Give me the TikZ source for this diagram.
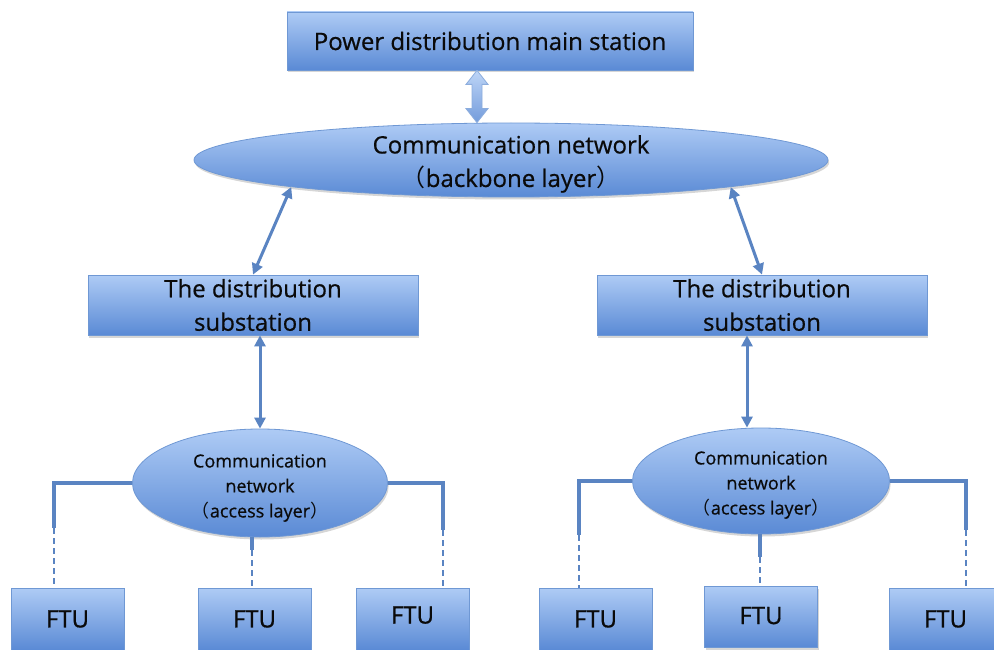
\documentclass[tikz,border=0pt]{standalone}
\usepackage{fontspec}
\setmainfont{Open Sans}[FakeBold=0.6]
\newfontfamily\cjk{Noto Sans CJK SC}
\usetikzlibrary{shapes.geometric,arrows.meta,shadows,calc}
\definecolor{topc}{HTML}{AECBF5}
\definecolor{botc}{HTML}{5A8AD5}
\definecolor{edgec}{HTML}{6F98D4}
\definecolor{linkc}{HTML}{5A84C2}
\definecolor{txtc}{HTML}{0A0A0A}
\tikzset{
  blockshade/.style={draw=edgec, line width=0.8pt, top color=topc, bottom color=botc, text=txtc,
    drop shadow={shadow xshift=1.2pt, shadow yshift=-2.5pt, fill=black!35, opacity=0.45}},
  boxnode/.style={blockshade, rectangle, inner sep=0pt, align=center},
  ellnode/.style={blockshade, ellipse, inner sep=0pt},
  labeltext/.style={text=txtc, align=center, inner sep=0pt},
  bigtext/.style={font=\fontsize{24}{33.5}\selectfont},
  smalltext/.style={font=\fontsize{18}{25}\selectfont},
  ftutext/.style={font=\fontsize{24}{26}\selectfont},
  ftubox/.style={boxnode, ftutext, minimum width=113pt, minimum height=62pt},
  twoway/.style={draw=linkc, line width=3pt, {Triangle[length=11pt,width=11pt]}-{Triangle[length=11pt,width=11pt]}},
  solidlink/.style={draw=linkc, line width=3.4pt},
  dashlink/.style={draw=linkc, line width=1.4pt, dash pattern=on 6pt off 4pt}
}
\begin{document}
\begin{tikzpicture}[x=1pt,y=-1pt]
\useasboundingbox (0,0) rectangle (994,650);
\fill[white] (0,0) rectangle (994,650);

% nodes
\node[boxnode, bigtext, minimum width=406pt, minimum height=58pt] (main) at (490,41) {Power distribution main station};
\node[ellnode, minimum width=634pt, minimum height=74pt] (bb) at (511,160) {};
\node[labeltext, bigtext] (bbt) at ([yshift=-4pt]bb.center) {Communication network\\{\cjk （}backbone layer{\cjk ）}};
\node[boxnode, bigtext, minimum width=330pt, minimum height=60pt] (sub1) at (253,305) {The distribution\\substation};
\node[boxnode, bigtext, minimum width=330pt, minimum height=60pt] (sub2) at (762,305) {The distribution\\substation};
\node[ellnode, minimum width=255pt, minimum height=108pt] (acc1) at (260,483) {};
\node[labeltext, smalltext] (acc1t) at ([yshift=-5pt]acc1.center) {Communication\\network\\{\cjk （}access layer{\cjk ）}};
\node[ellnode, minimum width=257pt, minimum height=106pt] (acc2) at (761,481) {};
\node[labeltext, smalltext] (acc2t) at ([yshift=-4pt]acc2.center) {Communication\\network\\{\cjk （}access layer{\cjk ）}};

\node[ftubox] (f1) at (67.5,619) {FTU};
\node[ftubox] (f2) at (254.5,619) {FTU};
\node[ftubox, text depth=8pt] (f3) at (412.5,619) {FTU};
\node[ftubox, minimum height=61pt, text depth=2pt] (f5) at (761,616.5) {FTU};
\node[ftubox] (f4) at (595.5,619) {FTU};
\node[ftubox] (f6) at (945.5,619) {FTU};

% block double arrow between main station and backbone network
\coordinate (ta) at ($(main.south)+(-13,0)$);
\coordinate (tb) at ($(bb.north)+(-34,0)$);
\path[draw=edgec!80!white, line width=0.8pt, top color=topc!80!white, bottom color=botc!85!white]
  (ta) -- ++(11,14) -- ++(-6,0) -- ($(tb)+(5,-14)$) -- ++(6,0) -- (tb)
  -- ++(-11,-14) -- ++(6,0) -- ($(ta)+(-5,14)$) -- ++(-6,0) -- cycle;

% arrows
\draw[twoway] (bb.187) -- (sub1.north);
\draw[twoway] (bb.353) -- (sub2.north);
\draw[twoway] ([xshift=7pt]sub1.south) -- (acc1.north);
\draw[twoway] ([xshift=-15pt]sub2.south) -- ([xshift=-14pt]acc2.north);

% access layer links, left group
\coordinate (a1) at (54,528);
\coordinate (a2) at (252,550);
\coordinate (a3) at (443,530);
\draw[solidlink] (acc1.west) -| (a1);
\draw[dashlink] (a1) -- (a1 |- f1.north);
\draw[solidlink] (acc1.south -| a2) -- (a2);
\draw[dashlink] (a2) -- (a2 |- f2.north);
\draw[solidlink] (acc1.east) -| (a3);
\draw[dashlink] (a3) -- ($(a3 |- f3.north)+(0,2)$);

% access layer links, right group
\coordinate (b1) at (579,535);
\coordinate (b2) at (760,557);
\coordinate (b3) at (966,530);
\draw[solidlink] (acc2.west) -| (b1);
\draw[dashlink] (b1) -- (b1 |- f4.north);
\draw[solidlink] (acc2.south -| b2) -- (b2);
\draw[dashlink] (b2) -- (b2 |- f5.north);
\draw[solidlink] (acc2.east) -| (b3);
\draw[dashlink] (b3) -- (b3 |- f6.north);
\end{tikzpicture}
\end{document}
